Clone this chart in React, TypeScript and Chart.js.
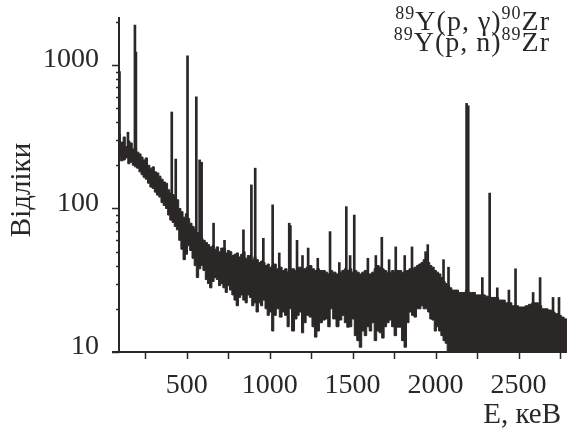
import React, { useEffect, useRef } from 'react';
import { Chart, registerables } from 'chart.js';

Chart.register(...registerables);

// Continuum band (noise envelope), keV / counts
const bandEnergy = [
  92, 100, 117, 130, 145, 158, 172, 185, 198, 212, 225, 237, 250, 264, 278, 292, 305, 318, 332, 345,
  358, 372, 385, 398, 412, 425, 438, 452, 465, 478, 492, 505, 518, 532, 545, 558, 572, 585, 598, 612,
  625, 638, 652, 665, 678, 692, 705, 718, 732, 745, 758, 772, 785, 798, 812, 825, 838, 852, 865, 878,
  892, 905, 918, 932, 945, 958, 972, 985, 998, 1012, 1025, 1040, 1058, 1075, 1090, 1105, 1118, 1132, 1150, 1165,
  1178, 1192, 1205, 1220, 1238, 1255, 1270, 1285, 1300, 1318, 1335, 1350, 1365, 1380, 1400, 1418, 1435, 1450, 1465, 1480,
  1495, 1510, 1525, 1540, 1555, 1570, 1585, 1600, 1615, 1630, 1645, 1660, 1675, 1690, 1705, 1720, 1735, 1750, 1765, 1780,
  1795, 1810, 1825, 1840, 1855, 1870, 1885, 1898, 1912, 1925, 1938, 1952, 1965, 1978, 1992, 2005, 2018, 2032, 2045, 2058,
  2070, 2085, 2098, 2115, 2138, 2160, 2180, 2200, 2218, 2240, 2260, 2278, 2300, 2320, 2340, 2358, 2380, 2400, 2420, 2438,
  2460, 2480, 2500, 2518, 2540, 2560, 2580, 2598, 2620, 2640, 2660, 2678, 2700, 2720, 2740, 2758, 2775, 2795,
];
const bandUpper = [
  330, 290, 315, 270, 295, 286, 260, 265, 247, 240, 228, 218, 225, 200, 191, 195, 180, 177, 168, 160,
  153, 150, 135, 128, 125, 120, 115, 100, 95, 87, 92, 85, 79, 75, 72, 68, 65, 62, 60, 58,
  56, 54, 55, 52, 54, 50, 53, 53, 49, 51, 50, 47, 48, 49, 46, 48, 50, 45, 47, 47,
  44, 46, 44, 42, 43, 42, 40, 41, 39, 40, 41, 38, 39, 37, 38, 36, 36, 38, 37, 39,
  39, 37, 38, 39, 40, 38, 37, 38, 37, 37, 36, 35, 37, 36, 35, 36, 37, 38, 37, 38,
  36, 37, 36, 35, 36, 37, 35, 35, 36, 38, 40, 39, 38, 37, 36, 36, 37, 36, 37, 37,
  36, 35, 37, 38, 38, 39, 40, 41, 42, 44, 44, 42, 40, 39, 37, 36, 35, 33, 31, 30,
  29, 28, 27, 27, 26, 26, 27, 26, 26, 25, 25, 25, 24.5, 24, 24, 24, 23, 23, 22, 22,
  21, 21, 20.6, 20.6, 21, 21.5, 22, 22, 21, 20, 20, 19.6, 19, 18.5, 18, 17.5, 17, 16,
];
const bandLower = [
  230, 215, 218, 225, 205, 210, 200, 195, 191, 180, 172, 165, 160, 150, 141, 138, 130, 124, 120, 110,
  105, 100, 90, 83, 80, 75, 71, 60, 52, 44, 48, 55, 51, 45, 40, 33, 38, 40, 37, 32,
  30, 28, 31, 33, 32, 29, 30, 28, 26, 29, 27, 25, 23, 21, 24, 25, 23, 22, 25, 24,
  21, 22, 19, 22, 21, 23, 20, 18, 19, 14, 18, 20, 17.5, 19, 18, 15, 20, 14, 17, 18,
  19, 13.6, 16, 18, 17.5, 15, 12.7, 14, 16, 16.7, 17, 15, 20, 17, 15, 16.7, 18, 16, 14.9, 15,
  17, 13, 12, 10.8, 14, 13, 15, 14, 16, 12, 14, 13.6, 12.5, 15, 16, 16.7, 15, 13, 14.9, 14.9,
  12, 10.8, 16, 19, 18, 17.5, 20, 20, 21, 20, 20, 19, 17, 16.7, 14, 15, 14, 13, 12, 11.5,
  10, 10, 10, 10, 10, 10, 10, 10, 10, 10, 10, 10, 10, 10, 10, 10, 10, 10, 10, 10,
  10, 10, 10, 10, 10, 10, 10, 10, 10, 10, 10, 10, 10, 10, 10, 10, 10, 10,
];

// Gamma lines (peaks)
const peakEnergy = [
  95, 146, 188, 194, 410, 434, 505, 558, 578, 590, 662, 728, 842, 890, 913, 962, 1018, 1058, 1118, 1125,
  1165, 1198, 1232, 1290, 1364, 1420, 1462, 1485, 1510, 1592, 1640, 1676, 1720, 1760, 1814, 1858, 1940, 1953,
  2048, 2078, 2187, 2197, 2282, 2326, 2372, 2442, 2482, 2588, 2630, 2708, 2744,
];
const peakCount = [
  900, 340, 1900, 1230, 470, 221, 1160, 600, 218, 210, 79, 60, 71, 146, 191, 62, 106, 49, 79, 76,
  60, 47, 53, 45, 69, 42, 103, 47, 90, 45, 47, 63, 44, 54, 47, 54, 50, 56,
  44, 39, 540, 520, 33, 128, 28, 27, 38, 26, 33, 24, 24,
];

const xTickValues = [250, 500, 750, 1000, 1250, 1500, 1750, 2000, 2250, 2500, 2750];
const xLabelValues = [500, 1000, 1500, 2000, 2500];
const yMajorValues = [10, 100, 1000];
const yMinorValues = [20, 30, 40, 50, 60, 70, 80, 90, 200, 300, 400, 500, 600, 700, 800, 900, 2000];

const INK = '#2b2727';
const FONT = '"Liberation Serif", "Times New Roman", serif';

const decorPlugin = {
  id: 'decor',
  afterDraw(chart: any) {
    const ctx = chart.ctx;
    const xs = chart.scales.x;
    const ys = chart.scales.y;
    const area = chart.chartArea;
    ctx.save();
    ctx.strokeStyle = INK;
    ctx.fillStyle = INK;
    // axis lines
    ctx.lineWidth = 2;
    ctx.beginPath();
    ctx.moveTo(area.left, area.top);
    ctx.lineTo(area.left, area.bottom);
    ctx.moveTo(area.left - 7, area.bottom);
    ctx.lineTo(area.right, area.bottom);
    ctx.stroke();
    // x ticks (outward)
    ctx.lineWidth = 1.5;
    xTickValues.forEach((v) => {
      const px = Math.round(xs.getPixelForValue(v)) + 0.5;
      ctx.beginPath();
      ctx.moveTo(px, area.bottom);
      ctx.lineTo(px, area.bottom + 7);
      ctx.stroke();
    });
    // y ticks
    yMajorValues.forEach((v) => {
      const py = Math.round(ys.getPixelForValue(v)) + 0.5;
      ctx.beginPath();
      ctx.moveTo(area.left - 7, py);
      ctx.lineTo(area.left, py);
      ctx.stroke();
    });
    yMinorValues.forEach((v) => {
      const py = Math.round(ys.getPixelForValue(v)) + 0.5;
      ctx.beginPath();
      ctx.moveTo(area.left - 3, py);
      ctx.lineTo(area.left, py);
      ctx.stroke();
    });
    // y tick labels
    ctx.font = `28px ${FONT}`;
    ctx.textAlign = 'right';
    ctx.textBaseline = 'middle';
    yMajorValues.forEach((v) => {
      ctx.fillText(String(v), area.left - 20, ys.getPixelForValue(v) - 5);
    });
    // axis title x
    ctx.font = `29px ${FONT}`;
    ctx.textAlign = 'right';
    ctx.textBaseline = 'alphabetic';
    ctx.fillText('E, кеВ', 561, 423);
    // axis title y
    ctx.save();
    ctx.translate(22, 190);
    ctx.rotate(-Math.PI / 2);
    ctx.textAlign = 'center';
    ctx.textBaseline = 'middle';
    ctx.font = `29px ${FONT}`;
    ctx.fillText('Відліки', 0, 0);
    ctx.restore();
    // reaction labels
    const drawRich = (parts: { t: string; sup: boolean }[], right: number, base: number) => {
      const big = `28px ${FONT}`;
      const small = `18px ${FONT}`;
      (ctx as any).letterSpacing = '1px';
      let total = 0;
      const widths = parts.map((p) => {
        ctx.font = p.sup ? small : big;
        const w = ctx.measureText(p.t).width;
        total += w;
        return w;
      });
      let x = right - total;
      ctx.textAlign = 'left';
      ctx.textBaseline = 'alphabetic';
      parts.forEach((p, i) => {
        ctx.font = p.sup ? small : big;
        ctx.fillText(p.t, x, p.sup ? base - 11 : base);
        x += widths[i];
      });
      (ctx as any).letterSpacing = '0px';
    };
    drawRich(
      [
        { t: '89', sup: true },
        { t: 'Y(p, γ)', sup: false },
        { t: '90', sup: true },
        { t: 'Zr', sup: false },
      ],
      550,
      30
    );
    drawRich(
      [
        { t: '89', sup: true },
        { t: 'Y(p, n)', sup: false },
        { t: '89', sup: true },
        { t: 'Zr', sup: false },
      ],
      550,
      51
    );
    ctx.restore();
  },
};

export default function App() {
  const ref = useRef<HTMLCanvasElement | null>(null);
  useEffect(() => {
    if (!ref.current) return;
    const upper = bandEnergy.map((e, i) => ({ x: e, y: bandUpper[i] }));
    const lower = bandEnergy.map((e, i) => ({ x: e, y: bandLower[i] }));
    const peaks = peakEnergy.map((e, i) => ({ x: e, y: peakCount[i] }));
    const chart = new Chart(ref.current, {
      type: 'line',
      data: {
        datasets: [
          {
            type: 'line',
            data: upper,
            borderColor: INK,
            borderWidth: 1,
            backgroundColor: INK,
            pointRadius: 0,
            stepped: true,
            fill: 'start',
            order: 2,
          } as any,
          {
            type: 'line',
            data: lower,
            borderColor: INK,
            borderWidth: 1,
            backgroundColor: '#ffffff',
            pointRadius: 0,
            stepped: true,
            fill: 'start',
            order: 1,
          } as any,
          {
            type: 'bar',
            data: peaks,
            backgroundColor: INK,
            borderWidth: 0,
            barThickness: 2,
            base: 10,
            order: 3,
          } as any,
        ],
      },
      options: {
        animation: false,
        responsive: false,
        maintainAspectRatio: false,
        layout: { padding: { top: 17, left: 0, right: 0, bottom: 0 } },
        plugins: { legend: { display: false }, tooltip: { enabled: false } },
        scales: {
          x: {
            type: 'linear',
            min: 92,
            max: 2792,
            offset: false,
            grid: { display: false },
            border: { display: false },
            afterBuildTicks: (s: any) => {
              s.ticks = xTickValues.map((v) => ({ value: v }));
            },
            afterFit: (s: any) => {
              s.height = 78;
            },
            ticks: {
              autoSkip: false,
              maxRotation: 0,
              padding: 9,
              color: INK,
              font: { family: FONT, size: 28 },
              callback: (v: any) => (xLabelValues.includes(Number(v)) ? String(v) : ''),
            },
          },
          y: {
            type: 'logarithmic',
            min: 10,
            max: 2159,
            grid: { display: false },
            border: { display: false },
            afterFit: (s: any) => {
              s.width = 119;
            },
            ticks: { display: false },
          },
        },
      },
      plugins: [decorPlugin],
    });
    return () => chart.destroy();
  }, []);
  return (
    <div style={{ position: 'fixed', left: 0, top: 0, width: 569, height: 430, background: '#fff' }}>
      <canvas ref={ref} width={569} height={430} style={{ width: 569, height: 430 }} />
    </div>
  );
}
